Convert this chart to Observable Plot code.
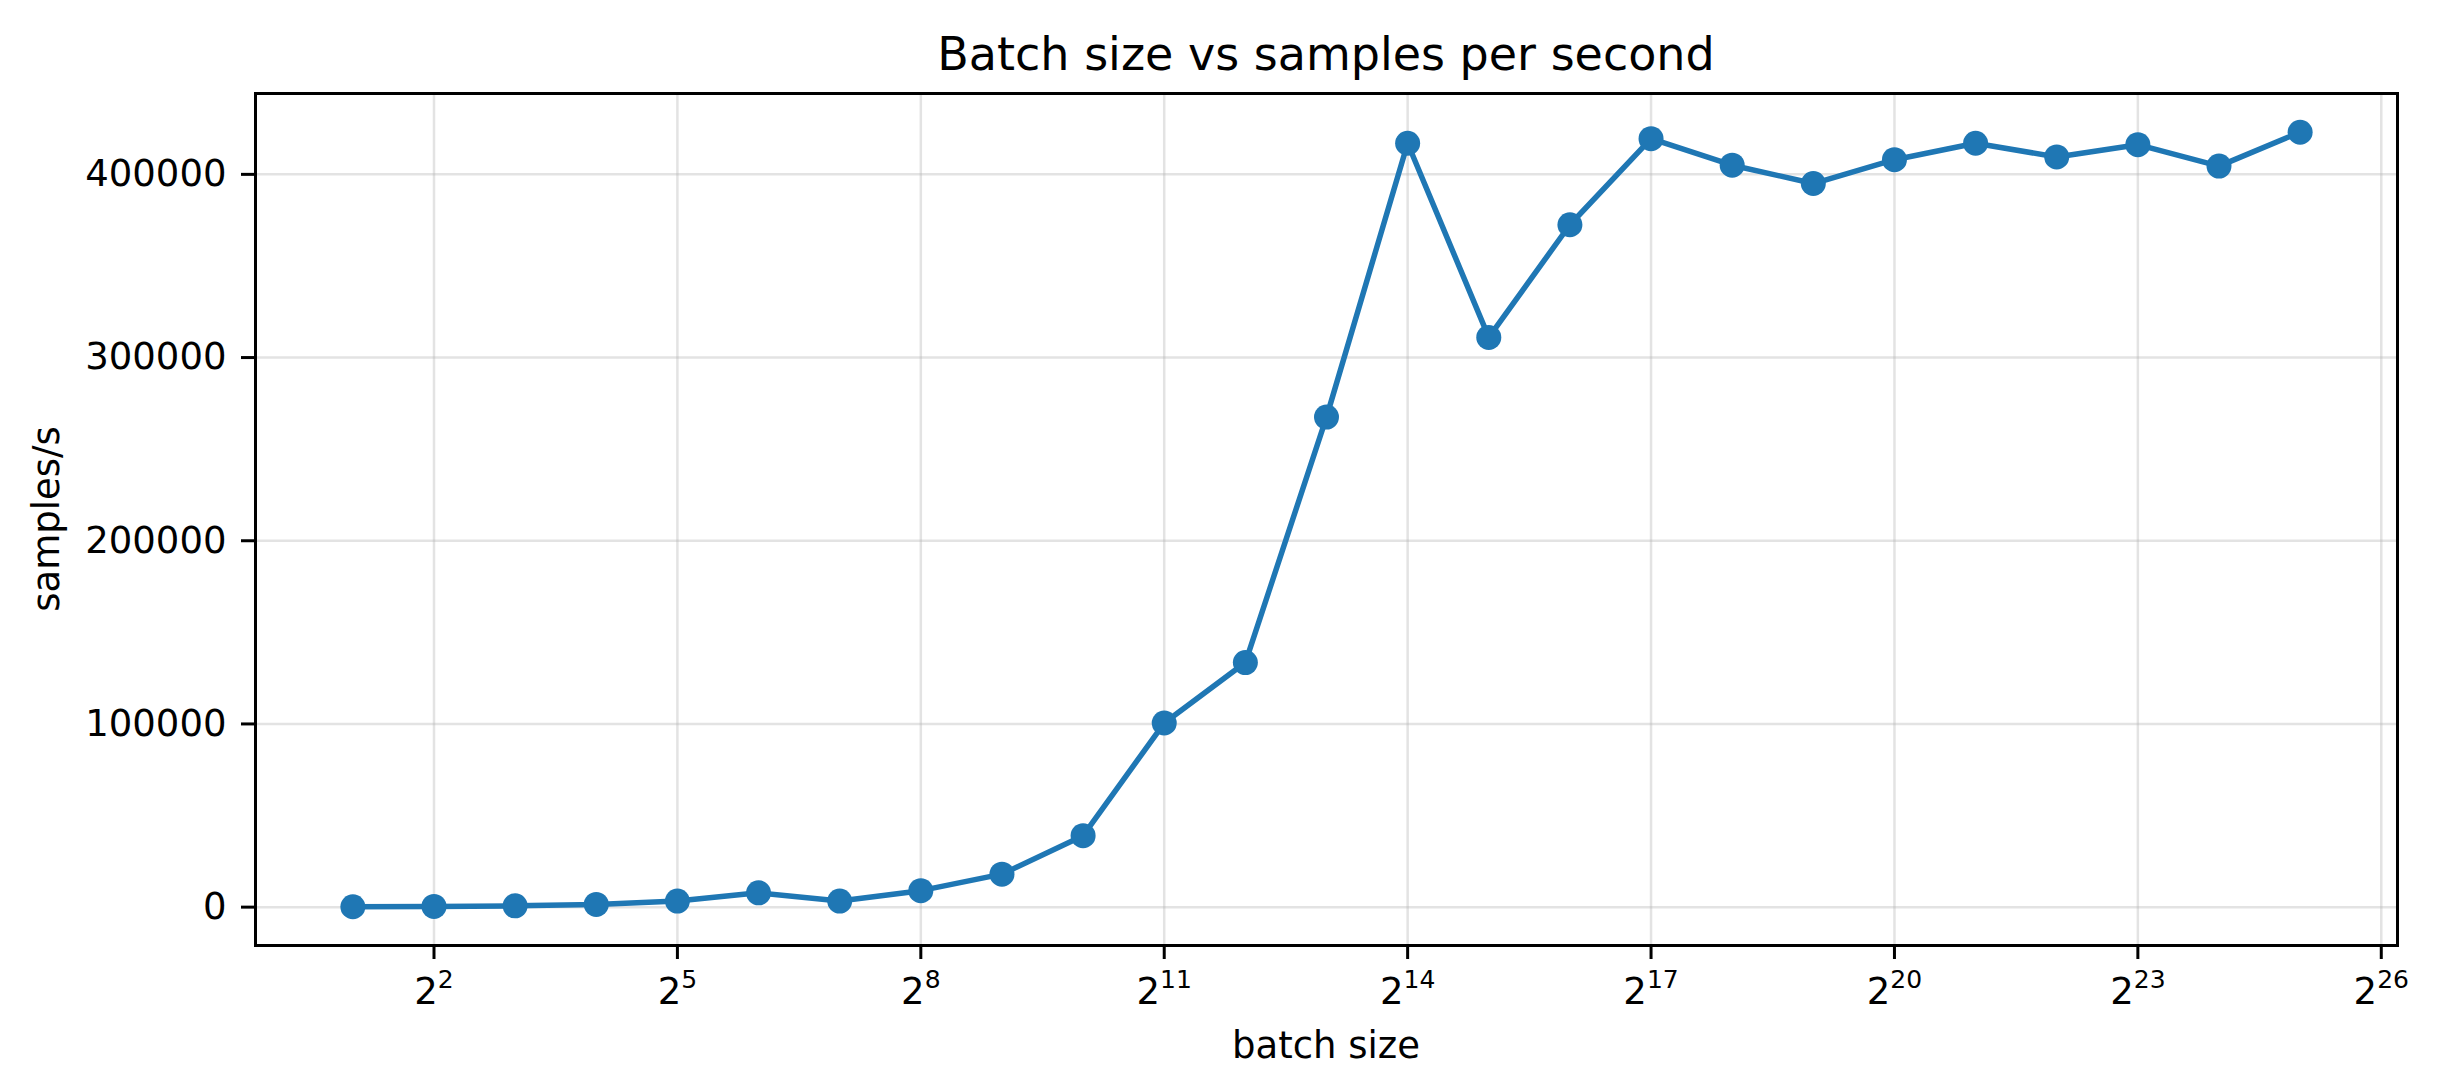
<!DOCTYPE html>
<html>
<head>
<meta charset="utf-8">
<script src="https://cdn.jsdelivr.net/npm/d3@7"></script>
<script src="https://cdn.jsdelivr.net/npm/@observablehq/plot@0.6"></script>
<style>
  html, body { margin: 0; padding: 0; background: #fff; }
  #title { box-sizing: border-box; height: 80px; padding-top: 31px; width: 2444px; text-align: center;
           font-family: "DejaVu Sans", sans-serif; font-size: 46px; line-height: 46px; color: #000; padding-left: 208px; }
  #chart svg { display: block; }
</style>
</head>
<body>
<div id="title">Batch size vs samples per second</div>
<div id="chart"></div>
<script>
const titleText = "Batch size vs samples per second";
const xLabel = "batch size";
const yLabel = "samples/s";

const batchSizes = [2, 4, 8, 16, 32, 64, 128, 256, 512, 1024, 2048, 4096, 8192, 16384, 32768, 65536,
  131072, 262144, 524288, 1048576, 2097152, 4194304, 8388608, 16777216, 33554432];
const samplesPerSecond = [200, 400, 700, 1500, 3300, 7800, 3300, 9000, 18000, 39000, 100500, 133500,
  267500, 417000, 311000, 372500, 419500, 405000, 395000, 408000, 417000, 409500, 416200, 404500, 423000];

const xTickExponents = [2, 5, 8, 11, 14, 17, 20, 23, 26];
const xTicks = xTickExponents.map(e => 2 ** e);
const yTicks = [0, 100000, 200000, 300000, 400000];

const data = batchSizes.map((b, i) => ({batch: b, sps: samplesPerSecond[i]}));

// matplotlib-like 5% margins
const lx0 = Math.log2(d3.min(batchSizes)), lx1 = Math.log2(d3.max(batchSizes));
const xm = (lx1 - lx0) * 0.05;
const y0 = d3.min(samplesPerSecond), y1 = d3.max(samplesPerSecond);
const ym = (y1 - y0) * 0.05;

const blue = "#1f77b4";
const gridStyle = {stroke: "#b0b0b0", strokeOpacity: 0.35, strokeWidth: 2.5};

const plot = Plot.plot({
  width: 2444,
  height: 1006,
  marginTop: 13,
  marginBottom: 141,
  marginLeft: 255,
  marginRight: 47,
  style: {fontFamily: "DejaVu Sans, sans-serif", fontSize: "37px", color: "#000", background: "#fff", overflow: "visible"},
  x: {type: "log", base: 2, domain: [2 ** (lx0 - xm), 2 ** (lx1 + xm)]},
  y: {domain: [y0 - ym, y1 + ym]},
  marks: [
    Plot.gridX(xTicks, gridStyle),
    Plot.gridY(yTicks, gridStyle),
    Plot.axisY({ticks: yTicks, tickSize: 14, tickPadding: 15, strokeWidth: 3, fontSize: 37,
                tickFormat: d => String(d), label: null}),
    Plot.axisX({ticks: xTicks, tickSize: 14, tickPadding: 18, strokeWidth: 3, fontSize: 37,
                tickFormat: d => String(Math.round(Math.log2(d))), label: null}),
    Plot.line(data, {x: "batch", y: "sps", stroke: blue, strokeWidth: 5.5}),
    Plot.dot(data, {x: "batch", y: "sps", r: 12.5, fill: blue, stroke: "none"}),
    Plot.frame({stroke: "#000", strokeWidth: 3})
  ]
});

document.getElementById("chart").appendChild(plot);
const svg = d3.select(plot);

// superscript exponents on x tick labels: 2^n
svg.selectAll('g[aria-label="x-axis tick label"] text').each(function() {
  const e = this.textContent;
  const t = d3.select(this);
  t.text("");
  t.append("tspan").text("2");
  t.append("tspan").attr("font-size", "25px").attr("dy", "-16").text(e);
});

// axis labels
svg.append("text")
  .attr("x", 1326).attr("y", 978)
  .attr("text-anchor", "middle")
  .attr("font-size", 37).attr("fill", "#000")
  .text(xLabel);
svg.append("text")
  .attr("transform", "translate(59,439) rotate(-90)")
  .attr("text-anchor", "middle")
  .attr("font-size", 37).attr("fill", "#000")
  .text(yLabel);
</script>
</body>
</html>
